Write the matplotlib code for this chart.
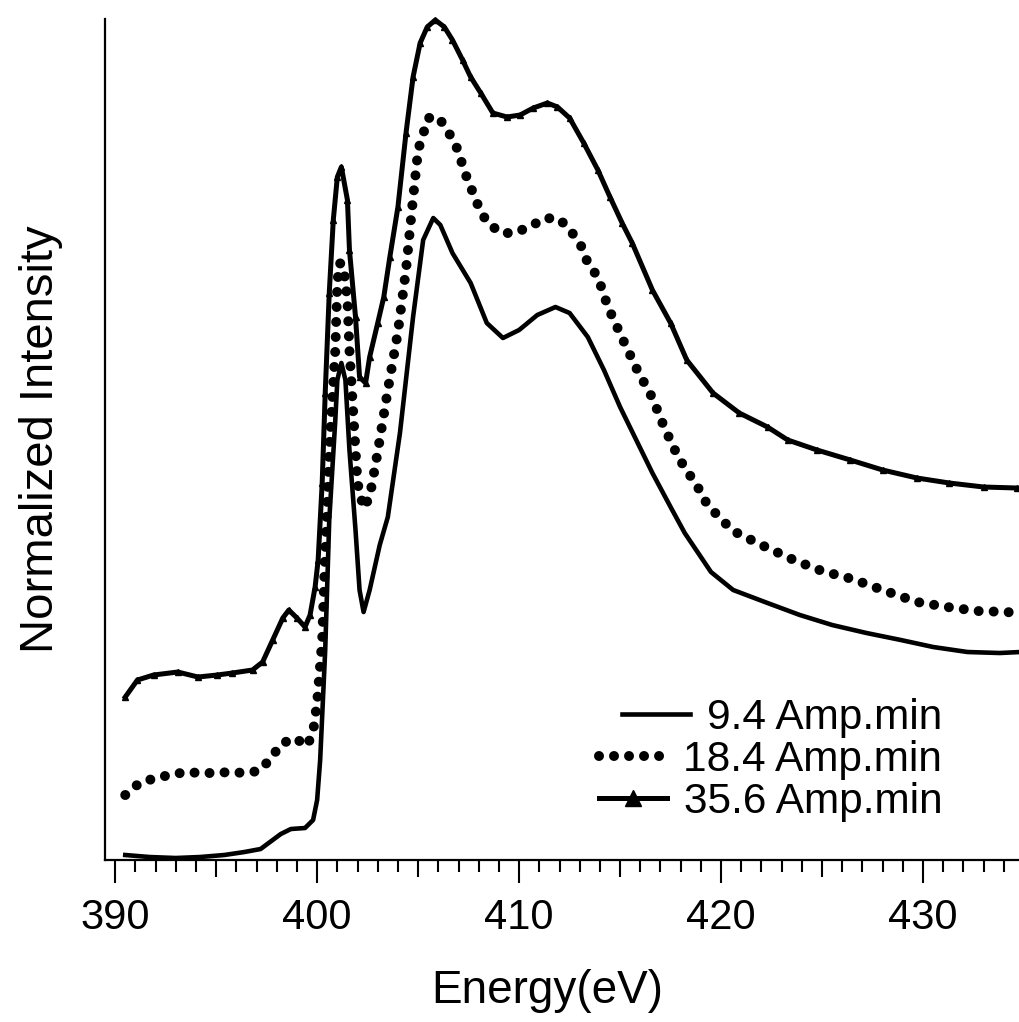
import matplotlib.pyplot as plt
from matplotlib.lines import Line2D
from matplotlib.ticker import MultipleLocator

plt.rcParams['font.family'] = ['Liberation Sans', 'DejaVu Sans']

# 9.4 Amp.min (solid)
e_94 = [390.5, 391.7, 393.0, 394.2, 395.4, 396.4, 397.2, 397.8, 398.2, 398.7,
        399.4, 399.8, 400.0, 400.15, 400.4, 400.6, 400.9, 401.0, 401.2, 401.4,
        401.6, 401.9, 402.1, 402.3, 402.6, 403.1, 403.5, 404.1, 404.75, 405.25,
        405.75, 406.1, 406.7, 407.6, 408.4, 409.2, 410.0, 410.9, 411.8, 412.5,
        413.4, 414.2, 415.0, 415.8, 416.6, 417.5, 418.2, 419.5, 420.6, 422.3,
        423.9, 425.5, 427.2, 428.9, 430.5, 432.2, 433.8, 434.8]
i_94 = [0.05, 0.03, 0.02, 0.03, 0.05, 0.08, 0.11, 0.20, 0.26, 0.31,
        0.32, 0.40, 0.60, 1.00, 2.10, 3.40, 4.40, 4.80, 4.97, 4.80,
        4.10, 3.30, 2.70, 2.48, 2.70, 3.15, 3.43, 4.27, 5.43, 6.20,
        6.42, 6.35, 6.07, 5.77, 5.37, 5.22, 5.30, 5.45, 5.53, 5.47,
        5.23, 4.90, 4.53, 4.20, 3.87, 3.53, 3.27, 2.88, 2.70, 2.57,
        2.45, 2.35, 2.27, 2.20, 2.13, 2.08, 2.07, 2.08]

# 18.4 Amp.min (dotted)
e_184 = [390.5, 391.2, 392.0, 392.7, 393.5, 394.2, 394.95, 395.7, 396.4, 397.1,
         397.7, 398.2, 398.9, 399.5, 399.8, 400.0, 400.25, 400.4, 400.6, 400.9,
         401.0, 401.1, 401.3, 401.5, 401.6, 401.7, 401.8, 401.9, 402.0, 402.3,
         402.6, 403.0, 403.5, 404.0, 404.4, 404.7, 405.0, 405.5, 406.0, 406.5,
         406.9, 407.4, 408.0, 408.4, 409.1, 409.75, 410.5, 411.3, 412.0, 412.6,
         413.1, 413.4, 413.9, 414.4, 415.1, 415.8, 416.6, 417.2, 417.9, 418.9,
         419.3, 419.9, 420.6, 422.0, 423.6, 425.0, 426.5, 428.0, 429.7, 431.2,
         432.7, 434.2, 434.8]
i_184 = [0.65, 0.77, 0.82, 0.85, 0.88, 0.87, 0.87, 0.88, 0.87, 0.89,
         1.01, 1.16, 1.22, 1.14, 1.28, 1.58, 2.20, 3.10, 4.10, 5.10,
         5.77, 5.97, 5.95, 5.60, 5.10, 4.77, 4.43, 4.10, 3.77, 3.52,
         3.63, 4.08, 4.70, 5.28, 5.90, 6.52, 7.10, 7.42, 7.43, 7.28,
         7.13, 6.83, 6.53, 6.38, 6.27, 6.27, 6.33, 6.42, 6.41, 6.28,
         6.13, 5.97, 5.83, 5.53, 5.22, 4.92, 4.62, 4.32, 4.02, 3.71,
         3.56, 3.43, 3.29, 3.15, 3.00, 2.89, 2.81, 2.70, 2.58, 2.53,
         2.49, 2.48, 2.45]

# 35.6 Amp.min (solid with triangles)
e_356 = [390.5, 391.1, 391.9, 393.1, 394.1, 395.05, 395.8, 396.8, 397.3, 397.8,
         398.3, 398.6, 399.0, 399.4, 399.65, 399.9, 400.05, 400.25, 400.4, 400.6,
         400.8, 401.0, 401.2, 401.5, 401.6, 401.9, 402.1, 402.4, 402.6, 403.0,
         403.3, 403.6, 404.0, 404.4, 404.75, 405.1, 405.45, 405.85, 406.3, 406.7,
         407.2, 407.6, 408.1, 408.7, 409.4, 410.05, 410.7, 411.4, 411.9, 412.5,
         413.2, 413.9, 414.5, 415.1, 415.6, 416.6, 417.5, 418.3, 419.6, 420.9,
         422.3, 423.3, 424.75, 426.4, 428.0, 429.7, 431.3, 433.0, 434.65]
i_356 = [1.63, 1.80, 1.85, 1.88, 1.83, 1.85, 1.87, 1.90, 1.98, 2.20,
         2.42, 2.50, 2.42, 2.33, 2.45, 2.73, 3.00, 3.77, 4.67, 5.67,
         6.40, 6.83, 6.93, 6.60, 6.10, 5.43, 4.83, 4.77, 5.03, 5.37,
         5.63, 6.03, 6.53, 7.27, 7.83, 8.17, 8.33, 8.40, 8.33, 8.20,
         8.00, 7.83, 7.67, 7.47, 7.43, 7.45, 7.52, 7.57, 7.53, 7.42,
         7.17, 6.90, 6.63, 6.37, 6.17, 5.70, 5.37, 5.00, 4.67, 4.47,
         4.33, 4.20, 4.10, 4.00, 3.90, 3.82, 3.77, 3.73, 3.72]

labels = ['9.4 Amp.min', '18.4 Amp.min', '35.6 Amp.min']

fig = plt.figure(figsize=(10.2, 10.22), dpi=100)
ax = fig.add_axes([0.103, 0.1585, 0.897, 0.8229])

dot_style = dict(linestyle=(0, (0.001, 1.5)), linewidth=7.2, dash_capstyle='round')

ax.plot(e_94, i_94, color='black', linewidth=3.3, clip_on=False)
ax.plot(e_184, i_184, color='black', clip_on=False, **dot_style)
ax.plot(e_356, i_356, color='black', linewidth=3.6, marker='^', markersize=4,
        clip_on=False)

ax.set_xlim(389.5, 434.8)
ax.set_ylim(0, 8.41)

ax.spines['top'].set_visible(False)
ax.spines['right'].set_visible(False)
ax.spines['left'].set_linewidth(1.6)
ax.spines['bottom'].set_linewidth(1.6)
ax.set_yticks([])

ax.xaxis.set_major_locator(MultipleLocator(10))
ax.xaxis.set_minor_locator(MultipleLocator(1))
ax.tick_params(axis='x', which='major', direction='out', length=16.5, width=1.5,
               labelsize=30, pad=11)
ax.tick_params(axis='x', which='minor', direction='out', length=8.5, width=1.5)
for loc, tick in zip(ax.xaxis.get_minorticklocs(), ax.xaxis.get_minor_ticks()):
    if round(loc) % 10 == 5:
        tick.tick1line.set_markersize(12.5)

ax.set_xlabel('Energy(eV)', fontsize=33)
ax.xaxis.set_label_coords(0.483, -0.13)
ax.set_ylabel('Normalized Intensity', fontsize=34, labelpad=30)

handles = [
    Line2D([], [], color='black', linewidth=3.3),
    Line2D([], [], color='black', **dot_style),
    Line2D([], [], color='black', linewidth=3.6, marker='^', markersize=11),
]
leg = ax.legend(handles, labels, loc='lower right', bbox_to_anchor=(0.915, 0.045),
                frameon=False, fontsize=30.5, handlelength=1.6, handletextpad=0.4,
                labelspacing=0.05, borderpad=0, borderaxespad=0)
# right-align the legend rows like the original
for col in leg._legend_handle_box.get_children():
    col.align = 'right'

fig.savefig('out.png', dpi=100)
